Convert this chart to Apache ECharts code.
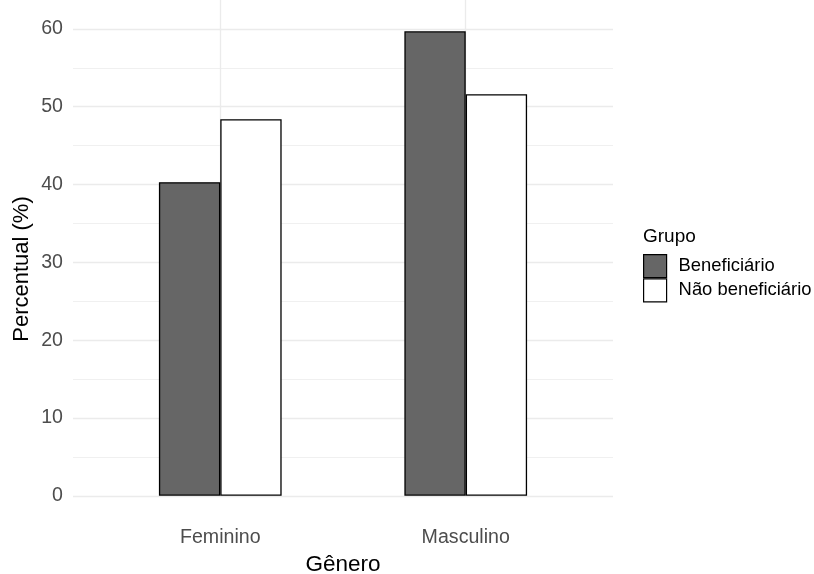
<!DOCTYPE html>
<html>
<head>
<meta charset="utf-8">
<script src="https://cdn.jsdelivr.net/npm/echarts@6/dist/echarts.min.js"></script>
<style>
html,body{margin:0;padding:0;background:#fff;}
#chart{width:814px;height:574px;}
</style>
</head>
<body>
<div id="chart"></div>
<script>
// ---- data ----
const categories = ['Feminino', 'Masculino'];
const seriesNames = ['Beneficiário', 'Não beneficiário'];
const beneficiario = [40.3, 59.7];
const naoBeneficiario = [48.4, 51.6];
const yTickMin = 0, yTickMax = 60, yTickStep = 10;

// ---- layout ----
const W = 814, H = 574;
const panelLeft = 73, panelRight = 613, panelTop = 8, panelBottom = 519;
const font = '"Liberation Sans", Arial, sans-serif';

const dataMax = Math.max(...beneficiario, ...naoBeneficiario);
const expand = 0.05 * dataMax;
const scaleMin = -expand, scaleMax = dataMax + expand;
const pxPerUnit = (panelBottom - panelTop) / (scaleMax - scaleMin);
const gridATop = panelTop + (scaleMax - yTickMax) * pxPerUnit;
const gridABottom = panelBottom - (yTickMin - scaleMin) * pxPerUnit;

// discrete x expansion 0.6 -> band width
const unit = (panelRight - panelLeft) / (categories.length - 1 + 1.2);
const gridBLeft = panelLeft + 0.1 * unit;
const gridBRight = panelRight - 0.1 * unit;

const chart = echarts.init(document.getElementById('chart'), null, {renderer: 'canvas'});
const option = {
  backgroundColor: '#ffffff',
  animation: false,
  grid: [
    {left: panelLeft, right: W - panelRight, top: gridATop, bottom: H - gridABottom,
     containLabel: false, outerBoundsMode: 'none'},
    {left: gridBLeft, right: W - gridBRight, top: panelTop, bottom: H - panelBottom,
     containLabel: false, outerBoundsMode: 'none'}
  ],
  xAxis: [
    {gridIndex: 0, type: 'value', show: false, min: 0, max: 1},
    {
      gridIndex: 1, type: 'category', data: categories,
      axisLine: {show: false},
      axisTick: {show: true, alignWithLabel: true, inside: true, length: panelBottom - panelTop,
        lineStyle: {color: '#ebebeb', width: 1.3}},
      axisLabel: {color: '#4d4d4d', fontSize: 19.6, fontFamily: font, margin: 9},
      splitLine: {show: false},
      name: 'Gênero', nameLocation: 'middle', nameGap: 29,
      nameTextStyle: {color: '#000', fontSize: 22.5, fontFamily: font}
    }
  ],
  yAxis: [
    {
      gridIndex: 0, type: 'value', min: yTickMin, max: yTickMax, interval: yTickStep,
      axisLine: {show: false}, axisTick: {show: false},
      axisLabel: {color: '#4d4d4d', fontSize: 19.6, fontFamily: font, margin: 10},
      splitLine: {show: true, lineStyle: {color: '#ebebeb', width: 1.3}},
      minorTick: {show: false, splitNumber: 2},
      minorSplitLine: {show: true, lineStyle: {color: '#f0f0f0', width: 1}}
    },
    {gridIndex: 1, type: 'value', min: scaleMin, max: scaleMax, show: false}
  ],
  legend: {
    orient: 'vertical', left: 638, top: 249,
    itemWidth: 23, itemHeight: 23, itemGap: 0,
    icon: 'rect',
    textStyle: {color: '#000', fontSize: 18.4, fontFamily: font, padding: [0, 0, 0, 7]},
    data: [
      {name: seriesNames[0], itemStyle: {color: '#666666', borderColor: '#000', borderWidth: 1.2}},
      {name: seriesNames[1], itemStyle: {color: '#ffffff', borderColor: '#000', borderWidth: 1.2}}
    ]
  },
  graphic: [
    {type: 'text', left: 643, top: 227, style: {text: 'Grupo', fill: '#000', font: '19px ' + font}},
    {type: 'text', x: 22, y: 269, rotation: Math.PI / 2,
     style: {text: 'Percentual (%)', fill: '#000', font: '22px ' + font, align: 'center', verticalAlign: 'middle'}}
  ],
  series: [
    {
      name: seriesNames[0], type: 'bar', xAxisIndex: 1, yAxisIndex: 1,
      data: beneficiario, barGap: '0%', barCategoryGap: '50%',
      itemStyle: {color: '#666666', borderColor: '#000', borderWidth: 1.3}
    },
    {
      name: seriesNames[1], type: 'bar', xAxisIndex: 1, yAxisIndex: 1,
      data: naoBeneficiario, barGap: '0%', barCategoryGap: '50%',
      itemStyle: {color: '#ffffff', borderColor: '#000', borderWidth: 1.3}
    }
  ]
};
chart.setOption(option);
</script>
</body>
</html>
